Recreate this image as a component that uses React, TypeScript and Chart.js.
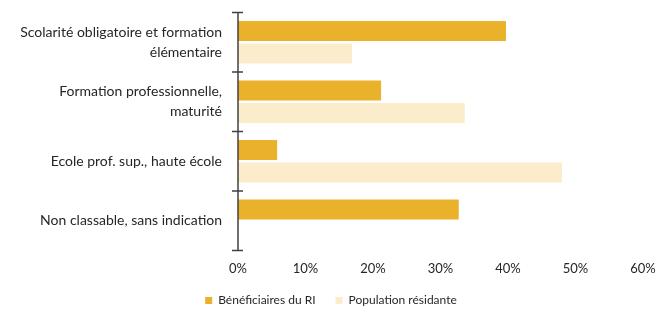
import { useEffect, useRef } from "react";
import { Chart, registerables } from "chart.js";

Chart.register(...registerables);

const categories: string[][] = [
  ["Scolarité obligatoire et formation", "élémentaire"],
  ["Formation professionnelle,", "maturité"],
  ["Ecole prof. sup., haute école"],
  ["Non classable, sans indication"],
];
const beneficiaires = [39.7, 21.2, 5.8, 32.7];
const population = [16.9, 33.6, 48.0, 0];
const seriesNames = ["Bénéficiaires du RI", "Population résidante"];
const xTicks = [0, 10, 20, 30, 40, 50, 60];

const FONT = "Lato, 'Open Sans', sans-serif";
const TEXT = "#262626";

const crossTicks = {
  id: "crossTicks",
  afterDraw(chart: any) {
    const y = chart.scales.y;
    const ctx = chart.ctx;
    const x0 = chart.chartArea.left;
    ctx.save();
    ctx.strokeStyle = "#404040";
    ctx.lineWidth = 1.5;
    const n = y.ticks.length;
    const step = y.getPixelForTick(1) - y.getPixelForTick(0);
    for (let i = 0; i <= n; i++) {
      const p = i < n ? y.getPixelForTick(i) - step / 2 : y.getPixelForTick(n - 1) + step / 2;
      ctx.beginPath();
      ctx.moveTo(x0 - 6, p);
      ctx.lineTo(x0 + 5, p);
      ctx.stroke();
    }
    ctx.beginPath();
    ctx.moveTo(x0, chart.chartArea.top);
    ctx.lineTo(x0, chart.chartArea.bottom);
    ctx.stroke();
    ctx.restore();
  },
};

export default function App() {
  const ref = useRef<HTMLCanvasElement>(null);
  useEffect(() => {
    document.body.style.margin = "0";
    const chart = new Chart(ref.current!, {
      type: "bar",
      data: {
        labels: categories,
        datasets: [
          {
            label: seriesNames[0],
            data: beneficiaires,
            backgroundColor: "#EAB22B",
            categoryPercentage: 0.76,
            barPercentage: 0.89,
          },
          {
            label: seriesNames[1],
            data: population,
            backgroundColor: "#FBEDCC",
            categoryPercentage: 0.76,
            barPercentage: 0.89,
          },
        ],
      },
      options: {
        indexAxis: "y",
        animation: false,
        responsive: false,
        maintainAspectRatio: false,
        layout: { padding: { top: 12.5, right: 0, left: 0, bottom: -5.5 } },
        scales: {
          x: {
            min: 0,
            max: 60,
            afterBuildTicks: (s: any) => {
              s.ticks = xTicks.map((v) => ({ value: v }));
            },
            afterFit: (s: any) => {
              s.height = 24;
              s.paddingLeft = 0;
              s.paddingRight = 19;
            },
            grid: { display: false, drawTicks: false },
            border: { display: false },
            ticks: {
              padding: 10.5,
              color: TEXT,
              font: { family: FONT, size: 13 },
              callback: (v: any) => v + "%",
            },
          },
          y: {
            afterFit: (s: any) => {
              s.width = 238;
              s.paddingTop = 0;
              s.paddingBottom = 0;
            },
            grid: { display: false, offset: true, drawTicks: false },
            border: { display: false },
            ticks: {
              padding: 16,
              color: TEXT,
              font: { family: FONT, size: 14, lineHeight: 1.45 },
            },
          },
        },
        plugins: {
          legend: {
            position: "bottom",
            labels: {
              boxWidth: 7,
              boxHeight: 7,
              padding: 20,
              color: TEXT,
              font: { family: FONT, size: 12 },
            },
          },
          tooltip: { enabled: false },
        },
      },
      plugins: [crossTicks],
    });
    return () => chart.destroy();
  }, []);
  return (
    <div style={{ width: 662, height: 311 }}>
      <canvas ref={ref} width={662} height={311} />
    </div>
  );
}
